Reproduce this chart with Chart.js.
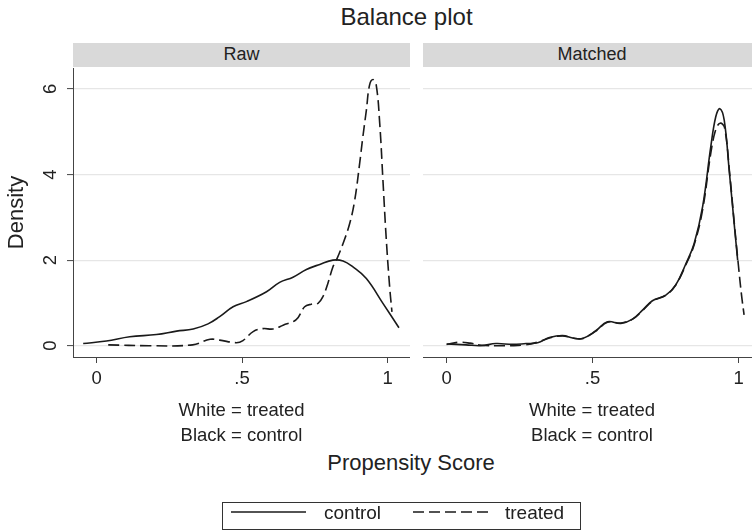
<!DOCTYPE html>
<html>
<head>
<meta charset="utf-8">
<title>Balance plot</title>
<script src="https://cdn.jsdelivr.net/npm/chart.js@4.4.1/dist/chart.umd.min.js"></script>
<style>
    body {
        margin: 0;
        width: 752px;
        height: 530px;
        overflow: hidden;
        position: relative;
        background: #fff;
        color: #222;
        font-family: "Liberation Sans", Arial, sans-serif;
    }
    .abs { position: absolute; line-height: 1; white-space: nowrap; }
    #title { left: 0; top: 5px; width: 813px; text-align: center; font-size: 24px; }
    .strip {
        position: absolute;
        top: 43px;
        height: 24px;
        background: #d9d9d9;
        text-align: center;
        font-size: 18px;
        line-height: 22px;
    }
    #xtitle { left: 0; top: 452px; width: 822px; text-align: center; font-size: 22px; }
    #legend {
        position: absolute;
        left: 222px;
        top: 502px;
        width: 357px;
        height: 26px;
        border: 1px solid #333;
    }
    .legtext { font-size: 19px; top: 503px; }
    canvas { position: absolute; top: 68px; }
</style>
</head>
<body>
<div id="title" class="abs">Balance plot</div>
<div class="strip" id="strip0" style="left:73px;width:337px;"></div>
<div class="strip" id="strip1" style="left:423px;width:338px;"></div>

<canvas id="rawChart" width="410" height="380" style="left:0;"></canvas>
<canvas id="matchedChart" width="338" height="380" style="left:423px;"></canvas>

<div id="xtitle" class="abs">Propensity Score</div>

<div id="legend"></div>
<svg class="abs" style="left:0;top:0;" width="752" height="530">
    <line x1="231" y1="512" x2="306" y2="512" stroke="#1a1a1a" stroke-width="1.6"/>
    <line x1="413" y1="512" x2="490" y2="512" stroke="#1a1a1a" stroke-width="1.6" stroke-dasharray="11 5"/>
</svg>
<div class="abs legtext" style="left:324px;">control</div>
<div class="abs legtext" style="left:505px;">treated</div>

<script>
const panels = ['Raw', 'Matched'];
const notes = ['White = treated', 'Black = control'];
const seriesNames = ['control', 'treated'];

const xTicks = [0, 0.5, 1];
const xTickLabels = ['0', '.5', '1'];
const yTicks = [0, 2, 4, 6];
const yTickLabels = ['0', '2', '4', '6'];

// Raw sample densities
const rawControlX = [-0.046, 0.034, 0.114, 0.206, 0.275, 0.332, 0.383, 0.423, 0.469, 0.515, 0.584, 0.629, 0.675, 0.721, 0.767, 0.812, 0.847, 0.881, 0.927, 0.984, 1.039];
const rawControlY = [0.05, 0.11, 0.21, 0.26, 0.34, 0.39, 0.51, 0.68, 0.91, 1.03, 1.26, 1.48, 1.60, 1.78, 1.90, 2.00, 1.98, 1.84, 1.57, 0.99, 0.42];

const rawTreatedX = [0.04, 0.18, 0.33, 0.39, 0.423, 0.48, 0.503, 0.538, 0.572, 0.606, 0.641, 0.686, 0.715, 0.738, 0.761, 0.778, 0.795, 0.812, 0.824, 0.847, 0.870, 0.887, 0.904, 0.915, 0.927, 0.938, 0.950, 0.961, 0.973, 0.984, 0.995, 1.007, 1.015];
const rawTreatedY = [0.02, 0.00, 0.02, 0.15, 0.13, 0.07, 0.12, 0.33, 0.40, 0.39, 0.48, 0.61, 0.91, 0.97, 0.99, 1.15, 1.46, 1.84, 2.00, 2.39, 2.86, 3.40, 4.26, 4.88, 5.50, 6.09, 6.22, 6.09, 5.19, 3.87, 2.54, 1.38, 0.79];

// Matched sample densities
const matchedControlX = [0.0, 0.066, 0.117, 0.169, 0.226, 0.272, 0.312, 0.352, 0.397, 0.432, 0.466, 0.511, 0.551, 0.597, 0.637, 0.671, 0.705, 0.751, 0.785, 0.820, 0.848, 0.877, 0.905, 0.922, 0.936, 0.951, 0.968, 0.985, 0.997];
const matchedControlY = [0.04, 0.02, 0.0, 0.05, 0.03, 0.05, 0.07, 0.19, 0.24, 0.18, 0.17, 0.35, 0.56, 0.52, 0.62, 0.83, 1.05, 1.18, 1.42, 1.92, 2.39, 3.25, 4.65, 5.35, 5.54, 5.27, 4.10, 2.86, 2.00];

const matchedTreatedX = [0.0, 0.04, 0.08, 0.12, 0.17, 0.22, 0.27, 0.31, 0.352, 0.397, 0.432, 0.466, 0.511, 0.551, 0.597, 0.637, 0.671, 0.705, 0.751, 0.785, 0.820, 0.848, 0.877, 0.905, 0.922, 0.937, 0.952, 0.970, 0.985, 1.0, 1.010, 1.019];
const matchedTreatedY = [0.03, 0.08, 0.06, 0.01, 0.0, 0.0, 0.02, 0.08, 0.18, 0.23, 0.18, 0.17, 0.34, 0.55, 0.53, 0.62, 0.82, 1.04, 1.18, 1.42, 1.90, 2.36, 3.18, 4.50, 5.05, 5.20, 5.10, 4.00, 2.90, 1.85, 1.20, 0.72];

const X_MIN = -0.081, X_MAX = 1.077;
const Y_MIN = -0.264, Y_MAX = 6.49;
const FONT = '"Liberation Sans", Arial, sans-serif';
const INK = '#1a1a1a';
const TEXT = '#222';

function toPoints(xs, ys) {
    return xs.map((x, i) => ({ x: x, y: ys[i] }));
}

// y tick labels turned to read bottom-up, placed with the y scale
const rotatedYLabels = {
    id: 'rotatedYLabels',
    afterDraw(chart) {
        const scale = chart.scales.y;
        const c = chart.ctx;
        c.save();
        c.font = '18.5px ' + FONT;
        c.fillStyle = TEXT;
        c.textAlign = 'center';
        c.textBaseline = 'middle';
        scale.ticks.forEach((tick, i) => {
            c.save();
            c.translate(scale.right - 22.5, scale.getPixelForValue(tick.value));
            c.rotate(-Math.PI / 2);
            c.fillText(yTickLabels[i], 0, 0);
            c.restore();
        });
        c.restore();
    }
};

function panelChart(canvasId, control, treated, withYAxis) {
    const ctx = document.getElementById(canvasId);

    const data = {
        datasets: [{
            label: seriesNames[0],
            data: control,
            borderColor: INK,
            borderWidth: 1.6,
            pointRadius: 0,
            tension: 0.4
        }, {
            label: seriesNames[1],
            data: treated,
            borderColor: INK,
            borderWidth: 1.6,
            borderDash: [11, 5],
            pointRadius: 0,
            tension: 0.4
        }]
    };

    const yAxis = withYAxis ? {
        min: Y_MIN,
        max: Y_MAX,
        afterBuildTicks: scale => { scale.ticks = yTicks.map(v => ({ value: v })); },
        afterFit: scale => { scale.width = 73; scale.paddingTop = 0; scale.paddingBottom = 0; },
        ticks: { display: false },
        grid: { color: '#e6e6e6', lineWidth: 1.2, tickLength: 6, tickColor: '#444', tickWidth: 1 },
        border: { color: '#444', width: 1 },
        title: {
            display: true,
            text: 'Density',
            font: { family: FONT, size: 22 },
            color: TEXT,
            padding: { top: 4, bottom: 0 }
        }
    } : {
        min: Y_MIN,
        max: Y_MAX,
        afterBuildTicks: scale => { scale.ticks = yTicks.map(v => ({ value: v })); },
        afterFit: scale => { scale.width = 0; scale.paddingTop = 0; scale.paddingBottom = 0; },
        ticks: { display: false },
        grid: { color: '#e6e6e6', lineWidth: 1.2, drawTicks: false },
        border: { display: false }
    };

    const config = {
        type: 'line',
        data: data,
        plugins: withYAxis ? [rotatedYLabels] : [],
        options: {
            responsive: false,
            animation: false,
            events: [],
            layout: { padding: 0 },
            plugins: { legend: { display: false }, tooltip: { enabled: false } },
            scales: {
                x: {
                    type: 'linear',
                    min: X_MIN,
                    max: X_MAX,
                    afterBuildTicks: scale => { scale.ticks = xTicks.map(v => ({ value: v })); },
                    afterFit: scale => { scale.height = 91; scale.paddingLeft = 0; scale.paddingRight = 0; },
                    ticks: {
                        callback: (v, i) => xTickLabels[i],
                        font: { family: FONT, size: 18.5 },
                        color: TEXT,
                        padding: 5,
                        maxRotation: 0,
                        autoSkip: false
                    },
                    grid: { drawOnChartArea: false, tickLength: 6, tickColor: '#444', tickWidth: 1 },
                    border: { color: '#444', width: 1 },
                    title: {
                        display: true,
                        text: notes,
                        font: { family: FONT, size: 18.5, lineHeight: 1.32 },
                        color: TEXT,
                        padding: 0
                    }
                },
                y: yAxis
            }
        }
    };

    new Chart(ctx, config);
}

document.getElementById('strip0').textContent = panels[0];
document.getElementById('strip1').textContent = panels[1];

panelChart('rawChart', toPoints(rawControlX, rawControlY), toPoints(rawTreatedX, rawTreatedY), true);
panelChart('matchedChart', toPoints(matchedControlX, matchedControlY), toPoints(matchedTreatedX, matchedTreatedY), false);
</script>
</body>
</html>
